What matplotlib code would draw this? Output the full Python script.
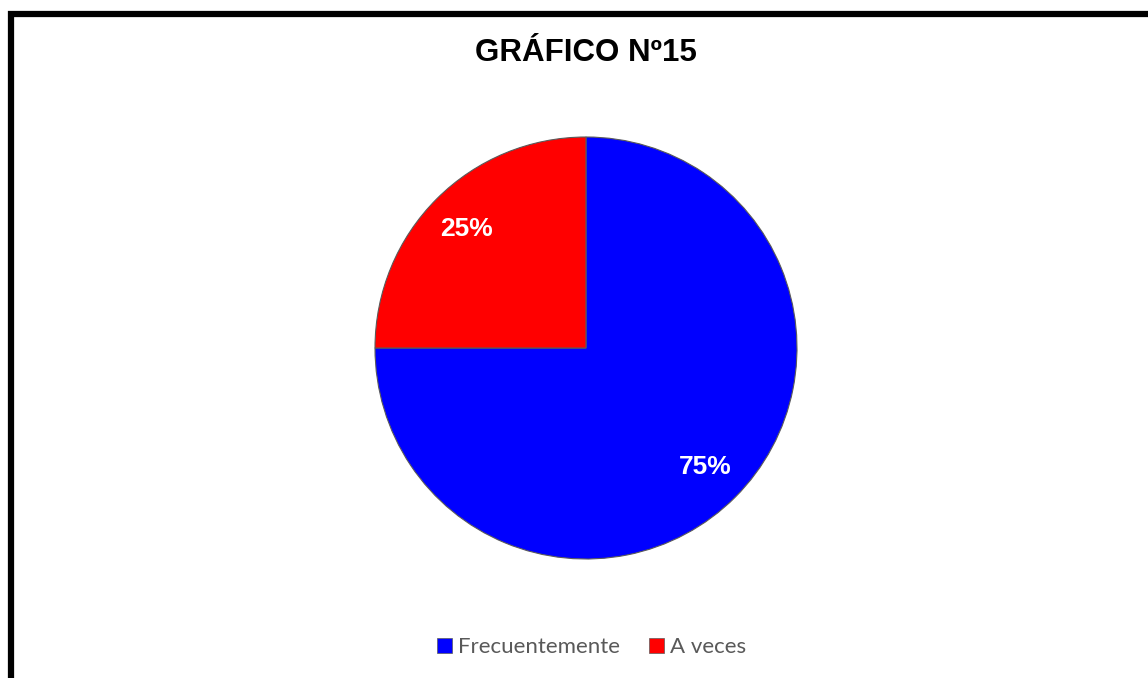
import matplotlib.pyplot as plt
from matplotlib.patches import Rectangle

labels = ['Frecuentemente', 'A veces']
values = [75, 25]
colors = ['#0000FF', '#FF0000']
title = 'GRÁFICO Nº15'

fig = plt.figure(figsize=(11.48, 6.78), dpi=100)

# pie axes: centre (586, 348), radius ~211 px
cx, cy, r = 586, 348, 211
W, H = 1148, 678
ax = fig.add_axes([(cx - r) / W, 1 - (cy + r) / H, 2 * r / W, 2 * r / H])
wedges, texts, autotexts = ax.pie(values, colors=colors, startangle=90, counterclock=False,
                                  autopct='%1.0f%%', pctdistance=0.8,
                                  wedgeprops=dict(linewidth=0.8, edgecolor='#5a5a5a'),
                                  textprops=dict(color='white', fontsize=19, fontweight='bold',
                                                 family='Liberation Sans'))
ax.set_xlim(-1, 1)
ax.set_ylim(-1, 1)
ax.set_aspect('equal')
ax.axis('off')

fig.text(cx / W, 1 - 53 / H, title, ha='center', va='center', fontsize=22.5,
         fontweight='bold', family='Liberation Sans')

leg = fig.legend(wedges, labels, loc='center', bbox_to_anchor=(592 / W, 1 - 647 / H),
                 ncol=2, frameon=False, handlelength=0.65, handleheight=0.65,
                 handletextpad=0.3, columnspacing=1.3,
                 prop=dict(family='Lato', size=16))
for t in leg.get_texts():
    t.set_color('#595959')
for h in leg.legend_handles:
    h.set_linewidth(0.5)

# thick outer frame, right and bottom run off the image
fig.patches.append(Rectangle((10.5 / W, -0.05), 1.2, 1 - 13.5 / H + 0.05,
                             transform=fig.transFigure, fill=False,
                             edgecolor='black', linewidth=4.5))

fig.savefig('out.png', dpi=100, facecolor='white')
